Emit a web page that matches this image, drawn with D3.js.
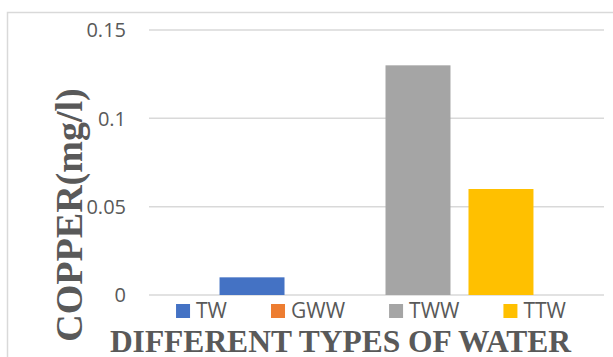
<!DOCTYPE html>
<html>
<meta charset="utf-8">
<head>
	<script src="https://d3js.org/d3.v7.min.js"></script>
	<style>
		body { margin: 0; background: #fff; }
		.grid line { stroke: #d9d9d9; stroke-width: 1.5px; }
		.tick-label { font-family: "Open Sans", sans-serif; font-size: 20px; fill: #595959; }
		.legend text { font-family: "Open Sans", sans-serif; font-size: 21px; fill: #595959; }
		.axis-title { font-family: "Liberation Serif", "Times New Roman", serif; font-weight: bold; fill: #595959; }
	</style>
</head>
<body>
<script>
	// data
	var series = ["TW", "GWW", "TWW", "TTW"];
	var values = [0.01, 0, 0.13, 0.06];
	var colors = ["#4472C4", "#ED7D31", "#A5A5A5", "#FFC000"];
	var yTicks = [0, 0.05, 0.1, 0.15];
	var yTitle = "COPPER(mg/l)";
	var xTitle = "DIFFERENT TYPES OF WATER";

	var width = 613, height = 357;
	var plot = {left: 149, right: 604, top: 30, bottom: 295};

	var svg = d3.select("body").append("svg")
		.attr("width", width)
		.attr("height", height);

	// chart area border
	svg.append("rect")
		.attr("x", 7.5).attr("y", 12.5)
		.attr("width", 620).attr("height", 360)
		.attr("fill", "none")
		.attr("stroke", "#d9d9d9")
		.attr("stroke-width", 1.5);

	var y = d3.scaleLinear().domain([0, 0.15]).range([plot.bottom, plot.top]);
	var x = d3.scaleBand().domain(series)
		.range([plot.left, plot.right])
		.paddingInner(0.217)
		.paddingOuter(0.85);

	// gridlines
	svg.append("g").attr("class", "grid")
		.selectAll("line")
		.data(yTicks).enter()
		.append("line")
		.attr("x1", plot.left).attr("x2", plot.right)
		.attr("y1", function(d) { return y(d); })
		.attr("y2", function(d) { return y(d); });

	// tick labels
	svg.append("g")
		.selectAll("text")
		.data(yTicks).enter()
		.append("text")
		.attr("class", "tick-label")
		.attr("x", 126)
		.attr("y", function(d) { return y(d); })
		.attr("dy", "0.36em")
		.attr("text-anchor", "end")
		.text(function(d) { return d3.format("")(d); });

	// bars
	svg.append("g")
		.selectAll("rect")
		.data(values).enter()
		.append("rect")
		.attr("x", function(d, i) { return x(series[i]); })
		.attr("y", function(d) { return y(d); })
		.attr("width", x.bandwidth())
		.attr("height", function(d) { return y(0) - y(d); })
		.attr("fill", function(d, i) { return colors[i]; });

	// legend, laid out by text width
	var legend = svg.append("g").attr("class", "legend");
	var items = legend.selectAll("g")
		.data(series).enter()
		.append("g");
	items.append("rect")
		.attr("width", 14).attr("height", 14)
		.attr("y", 304)
		.attr("fill", function(d, i) { return colors[i]; });
	items.append("text")
		.attr("x", 20)
		.attr("y", 318)
		.text(function(d) { return d; });
	var gap = 44, pos = 0, offsets = [];
	items.each(function() {
		offsets.push(pos);
		pos += 20 + d3.select(this).select("text").node().getComputedTextLength() + gap;
	});
	var total = pos - gap;
	var start = 371 - total / 2;
	items.attr("transform", function(d, i) { return "translate(" + (start + offsets[i]) + ",0)"; });

	// axis titles
	svg.append("text")
		.attr("class", "axis-title")
		.attr("transform", "translate(82,215) rotate(-90)")
		.attr("text-anchor", "middle")
		.style("font-size", "38px")
		.text(yTitle);

	svg.append("text")
		.attr("class", "axis-title")
		.attr("x", 340.5)
		.attr("y", 352)
		.attr("text-anchor", "middle")
		.style("font-size", "31.5px")
		.text(xTitle);
</script>
</body>
</html>
